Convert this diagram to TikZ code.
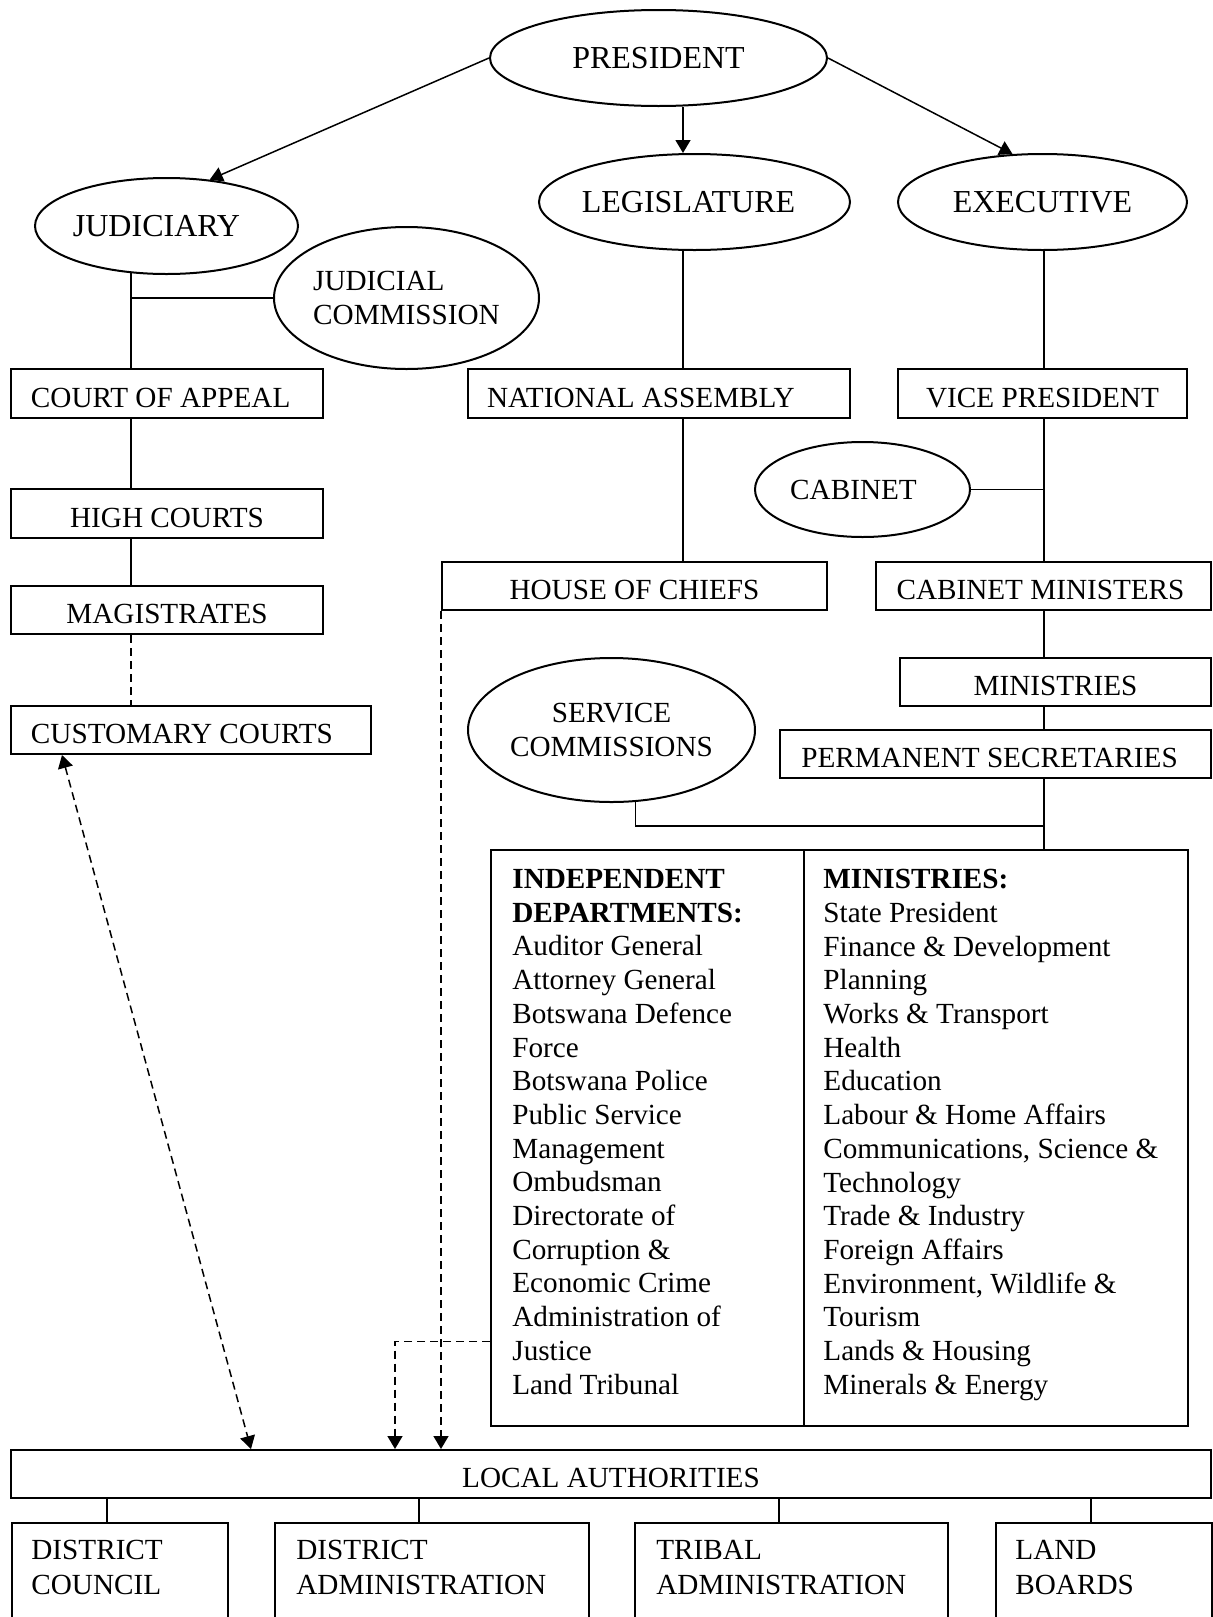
\documentclass[tikz,border=0pt]{standalone}
\usepackage{fontspec}
\setmainfont{Liberation Serif}
\usetikzlibrary{arrows.meta,shapes.geometric,backgrounds}

\begin{document}
\begin{tikzpicture}[x=0.5pt,y=-0.5pt,
  every node/.style={font=\fontsize{14.6}{16.85}\selectfont},
  oval/.style={ellipse, draw, line width=1pt, fill=white, inner sep=0pt},
  branch/.style={oval, font=\fontsize{16}{18}\selectfont},
  box/.style={rectangle, draw, line width=1pt, fill=white, inner sep=0pt,
    minimum height=24.5pt, text height=13.7pt, text depth=0pt},
  lbox/.style={box, align=flush left},
  unit/.style={rectangle, draw, line width=1pt, fill=white, anchor=north west,
    minimum height=80pt},
  unittext/.style={anchor=north west, inner sep=0pt, align=left,
    font=\fontsize{14.6}{17.5}\selectfont},
  coltext/.style={anchor=north west, inner sep=0pt, align=left},
  link/.style={line width=0.75pt},
  dlink/.style={line width=0.75pt, dash pattern=on 4pt off 2.5pt},
  tip/.style={-{Triangle[length=6.5pt,width=7.5pt]}},
  twotips/.style={{Triangle[length=6.5pt,width=7.5pt]}-{Triangle[length=6.5pt,width=7.5pt]}},
]
\useasboundingbox (0,0) rectangle (1212,1617);

% --- top level ---
\node[branch, minimum width=168.5pt, minimum height=48pt] (pres) at (658.5,58) {PRESIDENT};
\node[branch, minimum width=131.5pt, minimum height=48pt] (jud) at (166.5,226) {\kern-5pt JUDICIARY\kern5pt};
\node[branch, minimum width=155.5pt, minimum height=48pt] (leg) at (694.5,202) {\kern-3pt LEGISLATURE\kern3pt};
\node[branch, minimum width=144.5pt, minimum height=48pt] (exe) at (1042.5,202) {EXECUTIVE};
\node[oval, minimum width=132.5pt, minimum height=71pt, align=left] (jc) at (406.5,298) {JUDICIAL\\COMMISSION};

% --- judiciary branch ---
\node[lbox, minimum width=156pt, text width=136pt, inner xsep=10pt] (ca) at (167,393.5) {COURT OF APPEAL};
\node[box, minimum width=156pt] (hc) at (167,513.5) {HIGH COURTS};
\node[box, minimum width=156pt, minimum height=24pt] (mag) at (167,610) {MAGISTRATES};
\node[lbox, minimum width=180pt, text width=160pt, inner xsep=10pt, minimum height=24pt] (cc) at (191,730) {CUSTOMARY COURTS};

% --- legislature branch ---
\node[lbox, minimum width=191pt, text width=172pt, inner xsep=9.5pt] (na) at (659,393.5) {NATIONAL ASSEMBLY};
\node[box, minimum width=192.5pt, minimum height=24pt] (hoc) at (634.5,586) {HOUSE OF CHIEFS};

% --- executive branch ---
\node[box, minimum width=144.5pt] (vp) at (1042.5,393.5) {VICE PRESIDENT};
\node[oval, minimum width=107.5pt, minimum height=47.5pt] (cab) at (862.5,489.5) {\kern-4.5pt CABINET\kern4.5pt};
\node[box, minimum width=167.5pt, minimum height=24pt] (cm) at (1043.5,586) {\kern-1.5pt CABINET MINISTERS\kern1.5pt};
\node[box, minimum width=155.5pt, minimum height=24pt] (mins) at (1055.5,682) {MINISTRIES};
\node[box, minimum width=215.5pt, minimum height=24pt] (ps) at (995.5,754) {\kern-3pt PERMANENT SECRETARIES\kern3pt};
\node[oval, minimum width=143.5pt, minimum height=72pt, align=center] (sc) at (611.5,730) {SERVICE\\COMMISSIONS};

% --- departments and ministries table ---
\node[rectangle, draw, line width=1pt, fill=white, minimum width=348.5pt, minimum height=288pt, inner sep=0pt] (deps) at (839.5,1138) {};
\coordinate (divx) at (804,0);
\node[coltext] (indep) at (512,869) {\textbf{INDEPENDENT}\\\textbf{DEPARTMENTS:}\\Auditor General\\Attorney General\\Botswana Defence\\Force\\Botswana Police\\Public Service\\Management\\Ombudsman\\Directorate of\\Corruption \&\\Economic Crime\\Administration of\\Justice\\Land Tribunal};
\node[coltext] (minlist) at (823,869) {\textbf{MINISTRIES:}\\State President\\Finance \& Development\\Planning\\Works \& Transport\\Health\\Education\\Labour \& Home Affairs\\Communications, Science \&\\Technology\\Trade \& Industry\\Foreign Affairs\\Environment, Wildlife \&\\Tourism\\Lands \& Housing\\Minerals \& Energy};
\draw[line width=0.75pt] (deps.north -| divx) -- (deps.south -| divx);

% --- local level ---
\node[box, minimum width=600pt, minimum height=24pt] (la) at (611,1474) {LOCAL AUTHORITIES};
\node[unit, minimum width=107.75pt] (dc) at (11,1522) {};
\node[unit, minimum width=157pt] (da) at (274,1522) {};
\node[unit, minimum width=156.5pt] (ta) at (634,1522) {};
\node[unit, minimum width=108pt] (lb) at (995,1522) {};
\node[unittext] (dct) at (31,1540) {DISTRICT\\COUNCIL};
\node[unittext] (dat) at (296,1540) {DISTRICT\\ADMINISTRATION};
\node[unittext] (tat) at (656,1540) {TRIBAL\\ADMINISTRATION};
\node[unittext] (lbt) at (1015,1540) {LAND\\BOARDS};

% --- helper coordinates for connector columns ---
\coordinate (jx) at (131,298);
\coordinate (ax) at (683,0);
\coordinate (ex) at (1044,0);
\coordinate (sx) at (635.5,826);
\coordinate (dj) at (395,1341.7);
\coordinate (cu) at (62,0);
\coordinate (cl) at (251,0);
\coordinate (b1) at (107,0);
\coordinate (b2) at (419,0);
\coordinate (b3) at (779,0);
\coordinate (b4) at (1091,0);

\begin{scope}[on background layer]
  % president to the three branches
  \draw[link,tip] (pres.west) -- (jud.47);
  \draw[link,tip] (pres.south -| ax) -- (leg.north -| ax);
  \draw[link,tip] (pres.east) -- (exe.122);

  % judiciary column
  \draw[link] (jud.center -| jx) -- (ca.north -| jx);
  \draw[link] (jx) -- (jc.west);
  \draw[link] (ca.south -| jx) -- (hc.north -| jx);
  \draw[link] (hc.south -| jx) -- (mag.north -| jx);
  \draw[dlink] (mag.south -| jx) -- (cc.north -| jx);

  % legislature column
  \draw[link] (leg.center -| ax) -- (na.north -| ax);
  \draw[link] (na.south -| ax) -- (hoc.north -| ax);

  % executive column
  \draw[link] (exe.center -| ex) -- (vp.north -| ex);
  \draw[link] (vp.south -| ex) -- (cm.north -| ex);
  \draw[link] (cab.east) -- (cab.east -| ex);
  \draw[link] (cm.south -| ex) -- (mins.north -| ex);
  \draw[link] (mins.south -| ex) -- (ps.north -| ex);
  \draw[link] (ps.south -| ex) -- (deps.north -| ex);
  \draw[link] (sc.center -| sx) -- (sx) -- (sx -| ex);

  % dashed links to local authorities
  \draw[dlink,twotips] (cc.south -| cu) -- (la.north -| cl);
  \draw[dlink,tip] (hoc.south west) -- (hoc.south west |- la.north);
  \draw[dlink,tip] (deps.west |- dj) -- (dj) -- (dj |- la.north);

  % local authorities to its units
  \draw[link] (la.south -| b1) -- (dc.north -| b1);
  \draw[link] (la.south -| b2) -- (da.north -| b2);
  \draw[link] (la.south -| b3) -- (ta.north -| b3);
  \draw[link] (la.south -| b4) -- (lb.north -| b4);
\end{scope}
\end{tikzpicture}
\end{document}
